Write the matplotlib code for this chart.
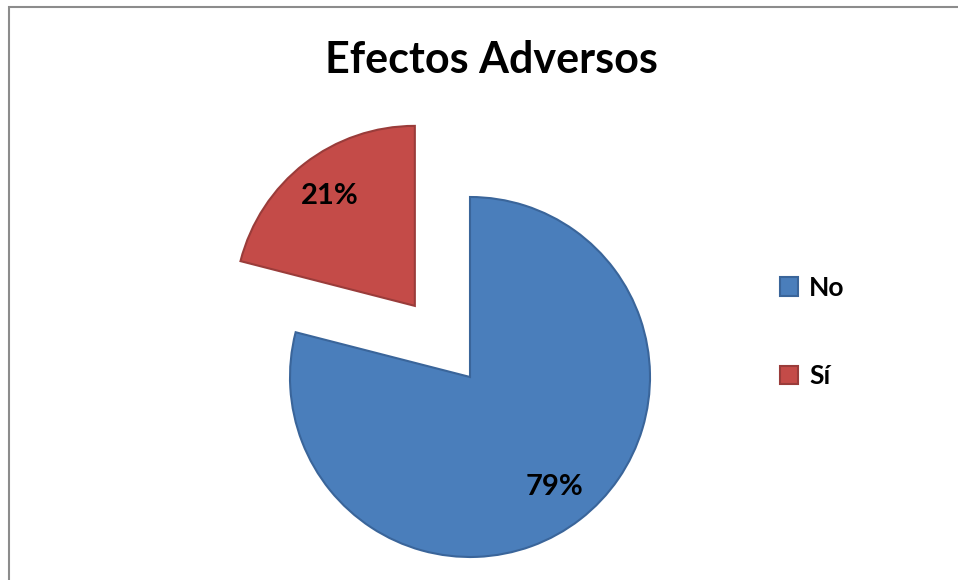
import matplotlib.pyplot as plt
from matplotlib.patches import Rectangle

FONT = ["Lato", "DejaVu Sans"]

categories = ["No", "Sí"]
values = [79, 21]
colors = ["#4A7EBB", "#C44B48"]
edge_colors = ["#3A659A", "#9A3C3A"]
title = "Efectos Adversos"


def main() -> None:
    plt.rcParams["font.family"] = FONT
    fig = plt.figure(figsize=(9.58, 5.8), dpi=100)
    ax = fig.add_axes([0, 0, 1, 1])

    radius = 180
    # explode is applied in data units here, so scale it by the radius
    wedges, _, autotexts = ax.pie(
        values,
        colors=colors,
        startangle=90,
        counterclock=False,
        explode=[0, 0.5 * radius],
        center=(470, 203),
        radius=radius,
        autopct="%d%%",
        pctdistance=0.77,
        wedgeprops=dict(linewidth=1.5),
        textprops=dict(fontsize=21, fontweight="bold", color="black"),
        frame=True,
    )
    for w, ec in zip(wedges, edge_colors):
        w.set_edgecolor(ec)
    ax.axis("off")
    ax.set_xlim(0, 958)
    ax.set_ylim(0, 580)
    ax.set_aspect("equal")

    fig.text(491 / 958, 1 - 60 / 580, title, ha="center", va="center",
             fontsize=31, fontweight="bold")

    fig.legend(
        wedges, categories,
        loc="center left",
        bbox_to_anchor=(780 / 958, 1 - 332 / 580),
        frameon=False,
        prop=dict(family=FONT, size=19, weight="bold"),
        labelspacing=2.45,
        handlelength=0.7,
        handleheight=0.7,
        handletextpad=0.4,
        borderpad=0,
        borderaxespad=0,
    )

    fig.patches.append(Rectangle((9 / 958, -0.1), 2, (580 - 7) / 580 + 0.1,
                                 transform=fig.transFigure, fill=False,
                                 edgecolor="#8C8C8C", linewidth=1.5))

    fig.savefig("out.png", dpi=100)


if __name__ == "__main__":
    main()
